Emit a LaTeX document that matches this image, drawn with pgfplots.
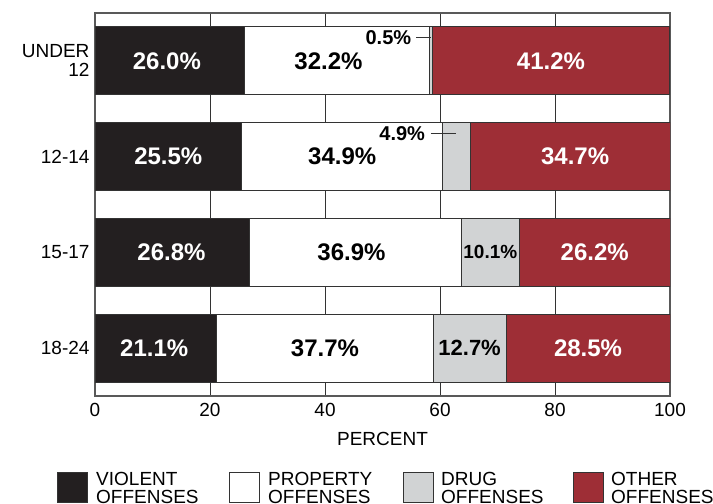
\documentclass[border=0pt]{standalone}
\usepackage{fontspec}
\setmainfont{Liberation Sans}
\usepackage{pgfplots}
\pgfplotsset{compat=1.18}
\definecolor{violent}{HTML}{231F20}
\definecolor{drug}{HTML}{D1D3D4}
\definecolor{other}{HTML}{9E2E36}
\definecolor{edgecol}{HTML}{333333}
\tikzset{
  lblbig/.style={font=\fontsize{24bp}{26bp}\selectfont\bfseries},
  lblmid/.style={font=\fontsize{20bp}{22bp}\selectfont\bfseries},
  leg/.style={font=\fontsize{19bp}{19bp}\selectfont, anchor=base west, inner sep=0pt},
  legbox/.style={draw=edgecol, line width=0.9bp}
}
\pgfplotsset{
  frame/.style={
    at={(95bp,108bp)}, anchor=south west,
    scale only axis, width=575bp, height=383bp,
    xmin=0, xmax=100, ymin=-0.5, ymax=3.5, y dir=reverse
  }
}
\begin{document}
\begin{tikzpicture}
\path[use as bounding box] (0,0) rectangle (713bp,504bp);
\begin{axis}[
  frame,
  xbar stacked, bar width=68bp,
  xtick={0,20,40,60,80,100},
  ytick={0,1,2,3},
  yticklabels={{UNDER\\12},{12-14},{15-17},{18-24}},
  tick style={draw=none},
  xmajorgrids, major grid style={draw=edgecol, line width=0.9bp},
  axis line style={draw=black!65, line width=1.3bp},
  ticklabel style={font=\fontsize{19bp}{19bp}\selectfont},
  yticklabel style={align=right, xshift=-2bp},
  xticklabel style={yshift=-4bp},
  xlabel={PERCENT},
  xlabel style={font=\fontsize{19bp}{19bp}\selectfont, yshift=-8bp},
  /pgf/number format/assume math mode=true
]
\addplot[fill=violent, draw=edgecol, line width=0.9bp] coordinates {(26.0,0) (25.5,1) (26.8,2) (21.1,3)};
\addplot[fill=white, draw=edgecol, line width=0.9bp] coordinates {(32.2,0) (34.9,1) (36.9,2) (37.7,3)};
\addplot[fill=drug, draw=edgecol, line width=0.9bp] coordinates {(0.5,0) (4.9,1) (10.1,2) (12.7,3)};
\addplot[fill=other, draw=edgecol, line width=0.9bp] coordinates {(41.2,0) (34.7,1) (26.2,2) (28.5,3)};
\end{axis}

% value labels in an overlaid axis so they sit above the bars
\begin{axis}[frame, hide axis, clip=false]
\node[lblbig, text=white] at (axis cs:12.5,0) {26.0\%};
\node[lblbig] at (axis cs:40.6,0) {32.2\%};
\node[lblbig, text=white] at (axis cs:79.3,0) {41.2\%};
\node[lblmid, anchor=east] at (axis cs:55.6,-0.24) {0.5\%};
\draw[draw=edgecol, line width=0.9bp] (axis cs:55.9,-0.24) -- (axis cs:58.45,-0.24);

\node[lblbig, text=white] at (axis cs:12.75,1) {25.5\%};
\node[lblbig] at (axis cs:43.0,1) {34.9\%};
\node[lblbig, text=white] at (axis cs:83.5,1) {34.7\%};
\node[lblmid, anchor=east] at (axis cs:58.0,0.76) {4.9\%};
\draw[draw=edgecol, line width=0.9bp] (axis cs:58.4,0.76) -- (axis cs:62.7,0.76);

\node[lblbig, text=white] at (axis cs:13.3,2) {26.8\%};
\node[lblbig] at (axis cs:44.6,2) {36.9\%};
\node[font=\fontsize{19bp}{21bp}\selectfont\bfseries, inner sep=0pt] at (axis cs:68.75,2) {10.1\%};
\node[lblbig, text=white] at (axis cs:86.9,2) {26.2\%};

\node[lblbig, text=white] at (axis cs:10.3,3) {21.1\%};
\node[lblbig] at (axis cs:40.0,3) {37.7\%};
\node[font=\fontsize{22bp}{24bp}\selectfont\bfseries] at (axis cs:65.15,3) {12.7\%};
\node[lblbig, text=white] at (axis cs:85.75,3) {28.5\%};
\end{axis}

% legend
\draw[legbox, fill=violent] (57bp,2bp) rectangle (87bp,32bp);
\node[leg] at (96bp,19bp) {VIOLENT};
\node[leg] at (96bp,1bp) {OFFENSES};
\draw[legbox, fill=white] (229bp,2bp) rectangle (259bp,32bp);
\node[leg] at (268bp,19bp) {PROPERTY};
\node[leg] at (268bp,1bp) {OFFENSES};
\draw[legbox, fill=drug] (403bp,2bp) rectangle (433bp,32bp);
\node[leg] at (441bp,19bp) {DRUG};
\node[leg] at (441bp,1bp) {OFFENSES};
\draw[legbox, fill=other] (573bp,2bp) rectangle (603bp,32bp);
\node[leg] at (611bp,19bp) {OTHER};
\node[leg] at (611bp,1bp) {OFFENSES};
\end{tikzpicture}
\end{document}
